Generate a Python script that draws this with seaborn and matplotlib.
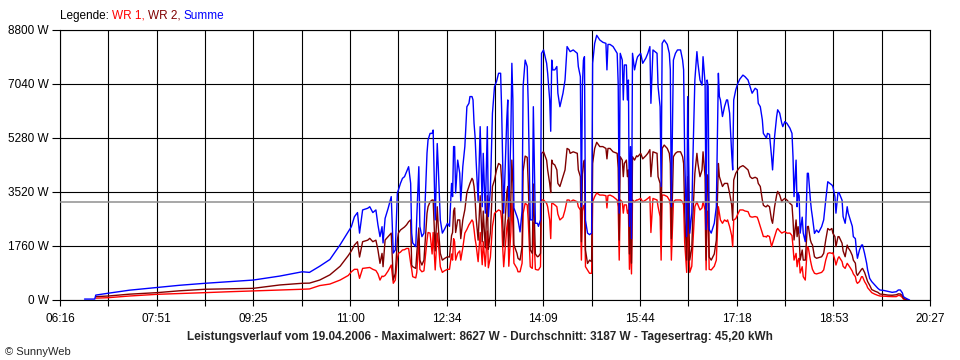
import matplotlib
matplotlib.use("Agg")
import matplotlib.pyplot as plt
import numpy as np
import pandas as pd
import seaborn as sns

nan = np.nan

# Zeit in Minuten nach Mitternacht
minuten = [400, 410, 411, 423, 444, 471, 493, 518, 542, 565, 591, 613, 620, 630, 640, 650,
           658, 661, 664, 667, 669, 672, 677, 679, 682, 685, 687, 689, 691, 692, 694, 697,
           700, 702, 704, 706, 707, 709, 711, 713, 715, 717, 719, 720, 721, 724, 725, 727,
           728, 730, 732, 735, 736, 738, 740, 741, 743, 745, 746, 748, 750, 752, 755, 757,
           759, 760, 761, 762, 763, 765, 767, 768, 770, 772, 774, 776, 777, 779, 780, 781,
           782, 783, 785, 787, 789, 790, 792, 794, 795, 797, 799, 800, 801, 803, 805, 807,
           808, 809, 810, 813, 814, 815, 817, 818, 819, 820, 823, 824, 826, 828, 829, 831,
           833, 834, 836, 838, 839, 841, 843, 844, 846, 847, 849, 852, 853, 855, 856, 857,
           858, 860, 862, 863, 865, 868, 870, 872, 874, 875, 878, 882, 883, 885, 886, 887,
           888, 889, 890, 892, 894, 896, 897, 899, 901, 904, 907, 910, 911, 912, 914, 917,
           921, 922, 923, 924, 926, 927, 928, 930, 931, 932, 933, 934, 935, 936, 938, 940,
           941, 944, 946, 949, 951, 953, 954, 956, 960, 961, 963, 964, 965, 967, 970, 972,
           973, 974, 976, 978, 980, 983, 985, 986, 987, 989, 990, 992, 994, 995, 997, 999,
           1000, 1002, 1004, 1005, 1007, 1008, 1009, 1010, 1011, 1013, 1016, 1018, 1020, 1021, 1022, 1024,
           1026, 1028, 1029, 1031, 1033, 1034, 1035, 1037, 1039, 1041, 1044, 1046, 1049, 1051, 1053, 1056,
           1058, 1059, 1061, 1063, 1064, 1066, 1067, 1068, 1070, 1072, 1073, 1075, 1077, 1078, 1080, 1082,
           1083, 1085, 1087, 1090, 1092, 1093, 1094, 1096, 1097, 1098, 1099, 1100, 1102, 1103, 1105, 1107,
           1108, 1110, 1111, 1112, 1114, 1116, 1118, 1121, 1123, 1125, 1127, 1129, 1131, 1132, 1134, 1135,
           1137, 1138, 1141, 1142, 1144, 1146, 1147, 1149, 1151, 1152, 1154, 1155, 1156, 1158, 1160, 1161,
           1163, 1165, 1166, 1168, 1170, 1173, 1176, 1178, 1182, 1186, 1190, 1194, 1196, 1198, 1200, 1201,
           1203, 1205, 1207]

summe = [30, 30, 160, 220, 320, 410, 480, 545, 600, 650, 780, 920, 900, 1100, 1320, 1800,
         2230, 2390, 2715, 2850, 2180, 2935, 2990, 3040, 2850, 2935, 2445, 2065, 2390, 1860, 2660, 2990,
         3370, 1530, 1630, 3490, 3585, 3800, 3965, 4020, 4180, 4345, 3800, 2180, 1860, 1740, 2715, 4345,
         2400, 2065, 2180, 4790, 5215, 5430, 5430, 5540, 2610, 5100, 4345, 2610, 2180, 2300, 2500, 2400,
         3800, 3370, 5000, 5000, 3490, 4560, 4130, 3200, 4345, 5000, 6300, 6410, 6630, 6630, 6520, 5760,
         5330, 4560, 3200, 5650, 3040, 4780, 2830, 5650, 2720, 3600, 6085, 6520, 6950, 7120, 7390, 7390,
         6200, 4500, 2830, 5870, 6520, 2720, 5430, 7715, 6520, 3000, 2720, 2610, 2220, 2900, 6960, 7820,
         7610, 6400, 2610, 2610, 6300, 2500, 2500, 2400, 2610, 8040, 8150, 7715, 7390, 6520, 5500, 7820,
         7500, 7500, 7610, 6740, 6300, 6740, 7170, 8260, 8150, 8095, 8150, 8040, 7610, 7280, 3040, 7000,
         7820, 7930, 2600, 2180, 2130, 2180, 7715, 8365, 8627, 8475, 8400, 8365, 7500, 8330, 8330, 8260,
         8040, 7060, 2830, 8040, 7820, 6520, 7660, 7660, 6520, 7170, 2400, 5000, 2000, 8040, 7500, 7820,
         7930, 8040, 7715, 7880, 8040, 8260, 6410, 8150, 8040, 6960, 6300, 3700, 8365, 8475, 8330, 8040,
         7500, 3040, 7820, 8040, 8150, 8150, 7820, 7500, 4780, 2065, 6630, 2175, 2830, 4500, 7170, 8095,
         7715, 7170, 7000, 7930, 7060, 2300, 7170, 6960, 2300, 2180, 2500, 3040, 7390, 6630, 6520, 5980,
         6300, 6520, 6520, 6090, 4780, 4240, 6520, 6850, 7060, 7200, 7330, 7280, 7170, 6960, 6740, 6900,
         6850, 6410, 6300, 5870, 5430, 5330, 5280, 5430, 5400, 4670, 4240, 5330, 5980, 6200, 6090, 5760,
         5650, 5815, 5760, 5600, 5430, 4670, 3370, 4560, 3040, 3490, 3400, 2180, 2700, 2180, 1900, 4130,
         4130, 3260, 2935, 2700, 2170, 2280, 2200, 2390, 2610, 3250, 3855, 3800, 3750, 3700, 3370, 2830,
         3500, 3500, 3250, 2720, 2500, 3040, 2830, 2610, 2400, 2065, 2000, 1630, 1360, 1630, 1790, 1795,
         1520, 1200, 980, 705, 600, 490, 380, 326, 310, 280, 250, 270, 326, 326, 230, 110,
         65, 30, 0]

wr2 = [nan, nan, 110, 130, 190, 240, 300, 350, 365, 380, 490, 545, 550, 650, 820, 1100,
       1450, 1600, 1790, 1900, 1400, 1900, 1950, 2010, 1900, 1950, 1630, 1195, 1520, 1085, 1955, 2065,
       2180, 650, 870, 1955, 2180, 2280, 2330, 2380, 2450, 2550, 2610, 1140, 1085, 1030, 1520, 2350,
       1300, 1140, 1300, 2825, 3040, 3200, 3260, 3260, 1600, 3040, 2390, 1520, 1300, 1350, 1410, 1400,
       2100, 2200, 2900, 3000, 2200, 2610, 2610, 2000, 2610, 2940, 3500, 3700, 3800, 3965, 3900, 3700,
       3300, 2700, 1950, 3400, 1900, 2900, 1700, 3400, 1650, 2200, 3700, 3800, 3910, 4240, 4450, 4400,
       3910, 2610, 1740, 3500, 3700, 1740, 3300, 4560, 3800, 1800, 1520, 1360, 1300, 1740, 4200, 4690,
       4650, 3800, 1630, 1520, 3780, 1500, 1410, 1420, 1520, 4780, 4830, 4560, 4240, 3800, 3500, 4560,
       4450, 4400, 4240, 3800, 3700, 4020, 4240, 4940, 4900, 4780, 4830, 4780, 4240, 4020, 1900, 4100,
       4450, 4560, 1630, 1190, 1300, 1250, 4450, 4940, 5140, 5000, 5000, 4940, 4600, 4940, 4940, 4830,
       4780, 4300, 1955, 4670, 4560, 4020, 4450, 4560, 4020, 4240, 1500, 3000, 1200, 4670, 4560, 4700,
       4670, 4780, 4600, 4700, 4780, 4900, 4020, 4830, 4780, 4020, 3800, 2300, 4940, 5050, 4940, 4780,
       4450, 2000, 4670, 4780, 4830, 4830, 4670, 4450, 2900, 1300, 4020, 1300, 1700, 2700, 4130, 4780,
       4450, 4020, 4240, 4830, 4020, 1300, 4080, 4020, 1400, 1300, 1500, 1950, 4450, 4020, 3910, 3700,
       3800, 3800, 3800, 3480, 3100, 2600, 3910, 4130, 4240, 4330, 4380, 4330, 4240, 4020, 3960, 4000,
       3960, 3800, 3700, 3260, 3090, 3040, 3040, 3090, 3040, 2610, 2500, 3040, 3420, 3540, 3420, 3200,
       3260, 3310, 3260, 3150, 3090, 2610, 1955, 2610, 2065, 2390, 2065, 1300, 1630, 1300, 1300, 2390,
       2400, 1955, 1850, 1800, 1410, 1360, 1380, 1410, 1520, 1955, 2330, 2280, 2330, 2175, 2065, 1740,
       2065, 2065, 1850, 1600, 1410, 1790, 1700, 1600, 1450, 1300, 1200, 870, 800, 900, 1000, 1030,
       900, 705, 600, 480, 340, 290, 250, 195, 180, 160, 155, 170, 200, 195, 140, 50,
       25, 10, nan]

wr1 = [nan, nan, 60, 75, 130, 185, 210, 240, 270, 295, 325, 350, 360, 470, 520, 650,
       800, 920, 1000, 1000, 705, 1030, 1050, 1060, 1000, 960, 850, 650, 780, 760, 800, 950,
       1140, 545, 650, 1360, 1520, 1560, 1630, 1640, 1680, 1680, 1200, 1000, 760, 720, 900, 2000,
       1000, 920, 950, 1950, 2200, 2180, 1500, 2200, 980, 2180, 1900, 1085, 900, 950, 1000, 1000,
       1500, 1300, 2000, 1900, 1300, 1520, 1600, 1300, 1700, 2180, 2300, 2450, 2500, 2610, 2550, 2300,
       2000, 1800, 1250, 2200, 1150, 1900, 1100, 2250, 1050, 1400, 2400, 2600, 2825, 2880, 2935, 2900,
       2610, 1740, 1085, 2350, 2610, 1100, 2200, 3200, 2400, 1200, 1030, 920, 920, 1200, 2820, 3150,
       3100, 2600, 1085, 1030, 2520, 1000, 980, 980, 1085, 3260, 3260, 3150, 3040, 2610, 2000, 3150,
       3150, 3100, 3040, 2800, 2610, 2700, 2935, 3260, 3260, 3200, 3260, 3200, 3040, 2935, 1300, 2900,
       3040, 3100, 1085, 980, 870, 870, 3200, 3370, 3487, 3420, 3420, 3400, 3000, 3400, 3420, 3370,
       3260, 3040, 1300, 3260, 3200, 2830, 3100, 3100, 2830, 2935, 1000, 2000, 850, 3260, 3200, 3260,
       3260, 3310, 3200, 3260, 3310, 3370, 2200, 3310, 3260, 3040, 2720, 1300, 3420, 3420, 3370, 3260,
       3100, 1300, 3200, 3260, 3260, 3260, 3200, 3100, 1900, 900, 2720, 900, 1100, 1800, 3040, 3200,
       3100, 2935, 3000, 3200, 2935, 980, 2900, 2830, 1000, 980, 1100, 1300, 3040, 2830, 2610, 2500,
       2610, 2560, 2610, 2390, 2100, 1740, 2610, 2650, 2800, 2935, 2935, 2900, 2880, 2720, 2700, 2720,
       2700, 2610, 2400, 2180, 2070, 2070, 2050, 2100, 2070, 1740, 1850, 2070, 2280, 2330, 2250, 2180,
       2200, 2230, 2180, 2180, 2100, 1740, 1300, 1520, 1085, 1300, 1360, 880, 1085, 760, 650, 1740,
       1700, 1300, 1140, 1000, 870, 850, 870, 900, 980, 1300, 1520, 1540, 1520, 1540, 1300, 1140,
       1360, 1410, 1250, 1100, 1030, 1195, 1150, 1050, 940, 850, 760, 600, 543, 600, 760, 760,
       600, 490, 400, 320, 240, 190, 150, 130, 125, 115, 110, 110, 150, 140, 80, 30,
       10, 0, nan]

y_ticks = [0, 1760, 3520, 5280, 7040, 8800]
x_tick_labels = ["06:16", "", "07:51", "", "09:25", "", "11:00", "", "12:34", "",
                 "14:09", "", "15:44", "", "17:18", "", "18:53", "", "20:27"]
durchschnitt = 3187
titel = ("Leistungsverlauf vom 19.04.2006 - Maximalwert: 8627 W - "
         "Durchschnitt: 3187 W - Tagesertrag: 45,20 kWh")

df = pd.DataFrame({"Zeit": minuten, "WR 1": wr1, "WR 2": wr2, "Summe": summe})

sns.set_style("white")
plt.rcParams["font.family"] = ["Liberation Sans", "DejaVu Sans"]
plt.rcParams["font.size"] = 8.5

fig = plt.figure(figsize=(9.6, 3.6), dpi=100)
ax = fig.add_axes([60 / 960, 60 / 360, 870 / 960, 270 / 360])

farben = {"WR 1": "#ff0000", "WR 2": "#800000", "Summe": "#0000ff"}
for name in ["WR 1", "WR 2", "Summe"]:
    sns.lineplot(data=df, x="Zeit", y=name, color=farben[name], lw=1.0,
                 estimator=None, sort=False, ax=ax, zorder=3)

ax.axhline(durchschnitt, color="#909090", lw=1.1, zorder=4)

ax.set_xlim(376, 1227)
ax.set_ylim(0, 8800)
ax.set_xticks(np.linspace(376, 1227, 19))
ax.set_xticklabels(x_tick_labels)
ax.set_yticks(y_ticks)
ax.set_yticklabels([f"{v} W" for v in y_ticks])
ax.grid(True, color="black", lw=0.8, zorder=1)
ax.set_axisbelow(True)
for s in ax.spines.values():
    s.set_color("black")
    s.set_linewidth(0.8)
ax.tick_params(axis="y", direction="out", length=6, width=0.8, pad=2, left=True, colors="black")
ax.tick_params(axis="x", direction="out", length=4, width=0.8, pad=5, bottom=True, colors="black")
ax.set_xlabel("")
ax.set_ylabel("")

fig.text(0.5, 1 - 337 / 360, titel, ha="center", va="center", fontweight="bold", fontsize=8.5)
fig.text(5 / 960, 1 - 352 / 360, "\u00a9 SunnyWeb", ha="left", va="center", fontsize=8)

# farbige Legende oben links
teile = [("Legende: ", "black"), ("WR 1, ", "#ff0000"), ("WR 2, ", "#800000"), ("Summe", "#0000ff")]
renderer = fig.canvas.get_renderer()
x0 = 60
for txt, col in teile:
    t = fig.text(x0 / 960, 1 - 16 / 360, txt, ha="left", va="center", color=col, fontsize=8.5)
    bb = t.get_window_extent(renderer=renderer)
    x0 += bb.width

fig.savefig("out.png", dpi=100)
